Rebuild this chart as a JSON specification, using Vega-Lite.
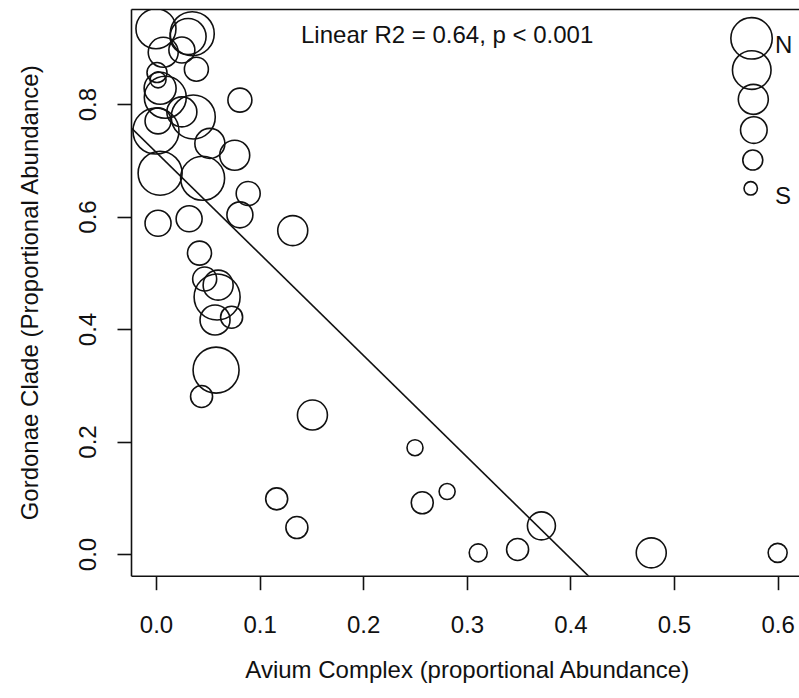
{
  "$schema": "https://vega.github.io/schema/vega-lite/v6.json",
  "width": 668,
  "height": 566.7,
  "autosize": {"type": "none"},
  "padding": {"left": 131, "top": 9, "right": 0, "bottom": 122.3},
  "background": "white",
  "config": {
    "font": "Liberation Sans",
    "view": {"stroke": null},
    "axis": {
      "grid": false,
      "domainColor": "#111",
      "domainWidth": 1.6,
      "tickColor": "#111",
      "tickWidth": 1.6,
      "tickSize": 14,
      "labelColor": "#111",
      "labelFontSize": 24,
      "labelFlush": false,
      "labelOverlap": false,
      "labelBound": false,
      "titleColor": "#111",
      "titleFontSize": 24,
      "titleFontWeight": "normal"
    }
  },
  "datasets": {
    "samples": [
      {"avium": 0.000, "gordonae": 0.934, "ns": 20},
      {"avium": 0.035, "gordonae": 0.925, "ns": 22},
      {"avium": 0.031, "gordonae": 0.920, "ns": 18},
      {"avium": 0.025, "gordonae": 0.896, "ns": 13},
      {"avium": 0.039, "gordonae": 0.862, "ns": 12},
      {"avium": 0.007, "gordonae": 0.892, "ns": 15},
      {"avium": 0.001, "gordonae": 0.856, "ns": 10},
      {"avium": 0.002, "gordonae": 0.843, "ns": 8},
      {"avium": 0.004, "gordonae": 0.828, "ns": 16},
      {"avium": 0.009, "gordonae": 0.812, "ns": 21},
      {"avium": 0.081, "gordonae": 0.807, "ns": 12},
      {"avium": 0.025, "gordonae": 0.786, "ns": 15},
      {"avium": 0.036, "gordonae": 0.777, "ns": 22},
      {"avium": 0.002, "gordonae": 0.770, "ns": 13},
      {"avium": 0.000, "gordonae": 0.752, "ns": 23},
      {"avium": 0.052, "gordonae": 0.730, "ns": 15},
      {"avium": 0.076, "gordonae": 0.709, "ns": 15},
      {"avium": 0.004, "gordonae": 0.677, "ns": 22},
      {"avium": 0.045, "gordonae": 0.668, "ns": 22},
      {"avium": 0.089, "gordonae": 0.641, "ns": 12},
      {"avium": 0.081, "gordonae": 0.603, "ns": 13},
      {"avium": 0.002, "gordonae": 0.588, "ns": 13},
      {"avium": 0.032, "gordonae": 0.596, "ns": 13},
      {"avium": 0.132, "gordonae": 0.575, "ns": 15},
      {"avium": 0.042, "gordonae": 0.535, "ns": 12},
      {"avium": 0.047, "gordonae": 0.489, "ns": 12},
      {"avium": 0.060, "gordonae": 0.478, "ns": 15},
      {"avium": 0.059, "gordonae": 0.457, "ns": 23},
      {"avium": 0.057, "gordonae": 0.416, "ns": 15},
      {"avium": 0.073, "gordonae": 0.421, "ns": 11},
      {"avium": 0.058, "gordonae": 0.327, "ns": 23},
      {"avium": 0.044, "gordonae": 0.280, "ns": 11},
      {"avium": 0.151, "gordonae": 0.247, "ns": 15},
      {"avium": 0.1165, "gordonae": 0.098, "ns": 11},
      {"avium": 0.136, "gordonae": 0.047, "ns": 11},
      {"avium": 0.250, "gordonae": 0.189, "ns": 8},
      {"avium": 0.257, "gordonae": 0.091, "ns": 11},
      {"avium": 0.281, "gordonae": 0.111, "ns": 8},
      {"avium": 0.311, "gordonae": 0.002, "ns": 9},
      {"avium": 0.349, "gordonae": 0.008, "ns": 11},
      {"avium": 0.372, "gordonae": 0.050, "ns": 14},
      {"avium": 0.478, "gordonae": 0.002, "ns": 15},
      {"avium": 0.600, "gordonae": 0.002, "ns": 9.5}
    ],
    "fit": [
      {"avium": -0.05, "gordonae": 0.805},
      {"avium": 0.45, "gordonae": -0.098}
    ],
    "note": [
      {"avium": 0.281, "gordonae": 0.908, "label": "Linear R2 = 0.64, p < 0.001"}
    ],
    "key": [
      {"avium": 0.5748, "gordonae": 0.9168, "ns": 20.7},
      {"avium": 0.5750, "gordonae": 0.8604, "ns": 19.3},
      {"avium": 0.5765, "gordonae": 0.8084, "ns": 15},
      {"avium": 0.5770, "gordonae": 0.7538, "ns": 13.3},
      {"avium": 0.5760, "gordonae": 0.7004, "ns": 10},
      {"avium": 0.5740, "gordonae": 0.6501, "ns": 6.7}
    ],
    "keyText": [
      {"avium": 0.5975, "gordonae": 0.890, "label": "N"},
      {"avium": 0.5975, "gordonae": 0.622, "label": "S"}
    ]
  },
  "layer": [
    {
      "data": {"name": "samples"},
      "mark": {"type": "point", "shape": "circle", "filled": false, "stroke": "#111", "strokeWidth": 1.6, "opacity": 1, "clip": true},
      "encoding": {
        "x": {
          "field": "avium", "type": "quantitative",
          "scale": {"domain": [-0.0241, 0.6206], "nice": false, "zero": false},
          "axis": {
            "orient": "bottom",
            "values": [0, 0.1, 0.2, 0.3, 0.4, 0.5, 0.6],
            "format": ".1f",
            "labelPadding": 23.5,
            "title": "Avium Complex (proportional Abundance)",
            "titleBaseline": "alphabetic",
            "titleAlign": "center",
            "titleX": 335.75,
            "titleY": 101.6
          }
        },
        "y": {
          "field": "gordonae", "type": "quantitative",
          "scale": {"domain": [-0.0386, 0.969], "nice": false, "zero": false},
          "axis": {
            "values": [0, 0.2, 0.4, 0.6, 0.8],
            "format": ".1f",
            "labelAngle": -90,
            "labelAlign": "center",
            "labelBaseline": "alphabetic",
            "labelPadding": 22,
            "title": "Gordonae Clade (Proportional Abundance)",
            "titleAngle": -90,
            "titleAlign": "center",
            "titleBaseline": "alphabetic",
            "titleX": -94,
            "titleY": 283.35
          }
        },
        "size": {
          "field": "ns", "type": "quantitative",
          "scale": {"type": "pow", "exponent": 2, "domain": [0, 25], "range": [0, 2500]},
          "legend": null
        }
      }
    },
    {
      "data": {"name": "fit"},
      "mark": {"type": "line", "stroke": "#111", "strokeWidth": 1.6, "clip": true},
      "encoding": {
        "x": {"field": "avium", "type": "quantitative", "axis": null},
        "y": {"field": "gordonae", "type": "quantitative"}
      }
    },
    {
      "data": {"name": "note"},
      "mark": {"type": "text", "fontSize": 24, "color": "#111", "align": "center", "baseline": "alphabetic"},
      "encoding": {
        "x": {
          "field": "avium", "type": "quantitative",
          "axis": {"orient": "top", "domain": true, "ticks": false, "labels": false, "title": null}
        },
        "y": {"field": "gordonae", "type": "quantitative"},
        "text": {"field": "label"}
      }
    },
    {
      "data": {"name": "key"},
      "mark": {"type": "point", "shape": "circle", "filled": false, "stroke": "#111", "strokeWidth": 1.6, "opacity": 1},
      "encoding": {
        "x": {"field": "avium", "type": "quantitative", "axis": null},
        "y": {"field": "gordonae", "type": "quantitative"},
        "size": {"field": "ns", "type": "quantitative", "legend": null}
      }
    },
    {
      "data": {"name": "keyText"},
      "mark": {"type": "text", "fontSize": 24, "color": "#111", "align": "left", "baseline": "alphabetic"},
      "encoding": {
        "x": {"field": "avium", "type": "quantitative", "axis": null},
        "y": {"field": "gordonae", "type": "quantitative"},
        "text": {"field": "label"}
      }
    }
  ],
  "resolve": {"axis": {"x": "independent"}}
}
